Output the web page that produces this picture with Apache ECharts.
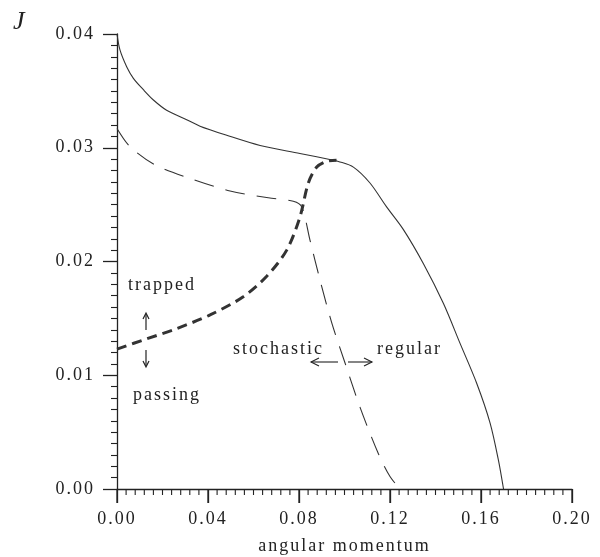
<!DOCTYPE html>
<html>
<head>
<meta charset="utf-8">
<script src="https://cdn.jsdelivr.net/npm/echarts@6/dist/echarts.min.js"></script>
<style>
  html, body { margin: 0; padding: 0; background: #fff; }
  #main { width: 600px; height: 557px; }
</style>
</head>
<body>
<div id="main"></div>
<script>
// solid curve (outer boundary)
var solidX = [0, 0.0013, 0.0043, 0.0072, 0.0116, 0.016, 0.0218, 0.0292, 0.0365, 0.0482, 0.0629, 0.0804, 0.0951, 0.0973, 0.1039, 0.1112, 0.1185, 0.1259, 0.1347, 0.1435, 0.1508, 0.1581, 0.164, 0.1677, 0.1699];
var solidY = [0.0400, 0.0386, 0.0371, 0.0361, 0.0351, 0.0342, 0.0333, 0.0326, 0.0319, 0.0311, 0.0302, 0.0295, 0.0289, 0.0288, 0.0283, 0.0269, 0.0248, 0.0228, 0.0198, 0.0163, 0.0128, 0.0093, 0.0058, 0.0025, 0];
// thin dashed curve (stochastic / regular)
var dashX = [0, 0.0057, 0.0167, 0.0321, 0.0497, 0.0665, 0.0775, 0.0812, 0.0848, 0.0892, 0.0944, 0.1002, 0.1068, 0.1149, 0.12, 0.1244];
var dashY = [0.0317, 0.0301, 0.0285, 0.0273, 0.0262, 0.0256, 0.0253, 0.0248, 0.0219, 0.0184, 0.0146, 0.0111, 0.0072, 0.0031, 0.0011, 0];
// thick dashed curve (trapped / passing boundary)
var boundX = [0, 0.013, 0.0262, 0.0409, 0.0555, 0.0658, 0.0746, 0.0804, 0.0841, 0.0878, 0.0921, 0.0965];
var boundY = [0.0123, 0.0132, 0.0141, 0.0153, 0.0169, 0.0187, 0.021, 0.0239, 0.0269, 0.0283, 0.0288, 0.0289];

var xTicks = ['0.00', '0.04', '0.08', '0.12', '0.16', '0.20'];
var yTicks = ['0.00', '0.01', '0.02', '0.03', '0.04'];

function pairs(xs, ys) {
  var out = [];
  for (var i = 0; i < xs.length; i++) out.push([xs[i], ys[i]]);
  return out;
}

// x ticks every 0.004, every tenth one is a long one
var xTickMarks = [];
for (var k = 0; k <= 50; k++) xTickMarks.push([k * 0.004, k % 10 === 0 ? 1 : 0]);

// the original figure has widely spaced letters: give canvas text some tracking
(function () {
  var proto = CanvasRenderingContext2D.prototype;
  var fill = proto.fillText, measure = proto.measureText;
  proto.fillText = function () { this.letterSpacing = '2px'; return fill.apply(this, arguments); };
  proto.measureText = function () { this.letterSpacing = '2px'; return measure.apply(this, arguments); };
})();

var ink = '#222';
var serif = 'Liberation Serif, serif';

var myChart = echarts.init(document.getElementById('main'));

var option = {
  backgroundColor: '#fff',
  animation: false,
  grid: { left: 117, right: 28, top: 34, bottom: 68, outerBoundsMode: 'none', containLabel: false },
  xAxis: {
    type: 'value',
    min: 0, max: 0.2, interval: 0.04,
    name: 'angular momentum',
    nameLocation: 'middle',
    nameGap: 47,
    nameTextStyle: { color: ink, fontFamily: serif, fontSize: 18 },
    axisLine: { show: true, lineStyle: { color: ink, width: 1.3 } },
    axisTick: { show: true, length: 14, lineStyle: { color: ink, width: 1.3 } },
    axisLabel: {
      color: ink, fontFamily: serif, fontSize: 18, margin: 20,
      formatter: function (v) { return xTicks[Math.round(v / 0.04)]; }
    },
    splitLine: { show: false }
  },
  yAxis: {
    type: 'value',
    min: 0, max: 0.04, interval: 0.01,
    axisLine: { show: true, lineStyle: { color: ink, width: 1.3 } },
    axisTick: { show: true, length: 14, lineStyle: { color: ink, width: 1.3 } },
    minorTick: { show: true, splitNumber: 10, length: 6, lineStyle: { color: ink, width: 1.1 } },
    axisLabel: {
      color: ink, fontFamily: serif, fontSize: 18, margin: 22,
      formatter: function (v) { return yTicks[Math.round(v / 0.01)]; }
    },
    splitLine: { show: false }
  },
  series: [{
    type: 'line',
    data: pairs(solidX, solidY),
    smooth: 0.3,
    showSymbol: false,
    lineStyle: { color: '#333', width: 1.1 }
  }, {
    type: 'line',
    data: pairs(dashX, dashY),
    smooth: 0.3,
    showSymbol: false,
    lineStyle: { color: '#333', width: 1.1, type: [20, 12] }
  }, {
    type: 'line',
    data: pairs(boundX, boundY),
    smooth: 0.3,
    showSymbol: false,
    lineStyle: { color: '#333', width: 3, type: [10, 6] }
  }, {
    // tick marks under the x axis
    type: 'custom',
    clip: false,
    silent: true,
    data: xTickMarks,
    renderItem: function (params, api) {
      var p = api.coord([api.value(0), 0]);
      var major = api.value(1) === 1;
      return {
        type: 'line',
        shape: { x1: p[0], y1: p[1], x2: p[0], y2: p[1] + (major ? 14 : 6) },
        style: { stroke: ink, lineWidth: major ? 1.3 : 1.1 }
      };
    }
  }],
  graphic: [
    { type: 'text', left: 13, top: 8, style: { text: 'J', fill: ink, font: 'italic 26px ' + serif } },
    { type: 'text', left: 128, top: 275, style: { text: 'trapped', fill: ink, font: '18px ' + serif } },
    { type: 'text', left: 133, top: 385, style: { text: 'passing', fill: ink, font: '18px ' + serif } },
    { type: 'text', left: 233, top: 339, style: { text: 'stochastic', fill: ink, font: '18px ' + serif } },
    { type: 'text', left: 377, top: 339, style: { text: 'regular', fill: ink, font: '18px ' + serif } },
    // up / down arrows
    { type: 'line', shape: { x1: 146, y1: 314, x2: 146, y2: 330 }, style: { stroke: ink, lineWidth: 1.2 } },
    { type: 'polyline', shape: { points: [[143, 319], [146, 313], [149, 319]] }, style: { stroke: ink, lineWidth: 1.2, fill: null } },
    { type: 'line', shape: { x1: 146, y1: 350, x2: 146, y2: 366 }, style: { stroke: ink, lineWidth: 1.2 } },
    { type: 'polyline', shape: { points: [[143, 361], [146, 367], [149, 361]] }, style: { stroke: ink, lineWidth: 1.2, fill: null } },
    // left / right arrows
    { type: 'line', shape: { x1: 311, y1: 362, x2: 338, y2: 362 }, style: { stroke: ink, lineWidth: 1.1 } },
    { type: 'polyline', shape: { points: [[319, 358], [311, 362], [319, 366]] }, style: { stroke: ink, lineWidth: 1.1, fill: null } },
    { type: 'line', shape: { x1: 348, y1: 362, x2: 372, y2: 362 }, style: { stroke: ink, lineWidth: 1.1 } },
    { type: 'polyline', shape: { points: [[364, 358], [372, 362], [364, 366]] }, style: { stroke: ink, lineWidth: 1.1, fill: null } }
  ]
};

myChart.setOption(option);
</script>
</body>
</html>
